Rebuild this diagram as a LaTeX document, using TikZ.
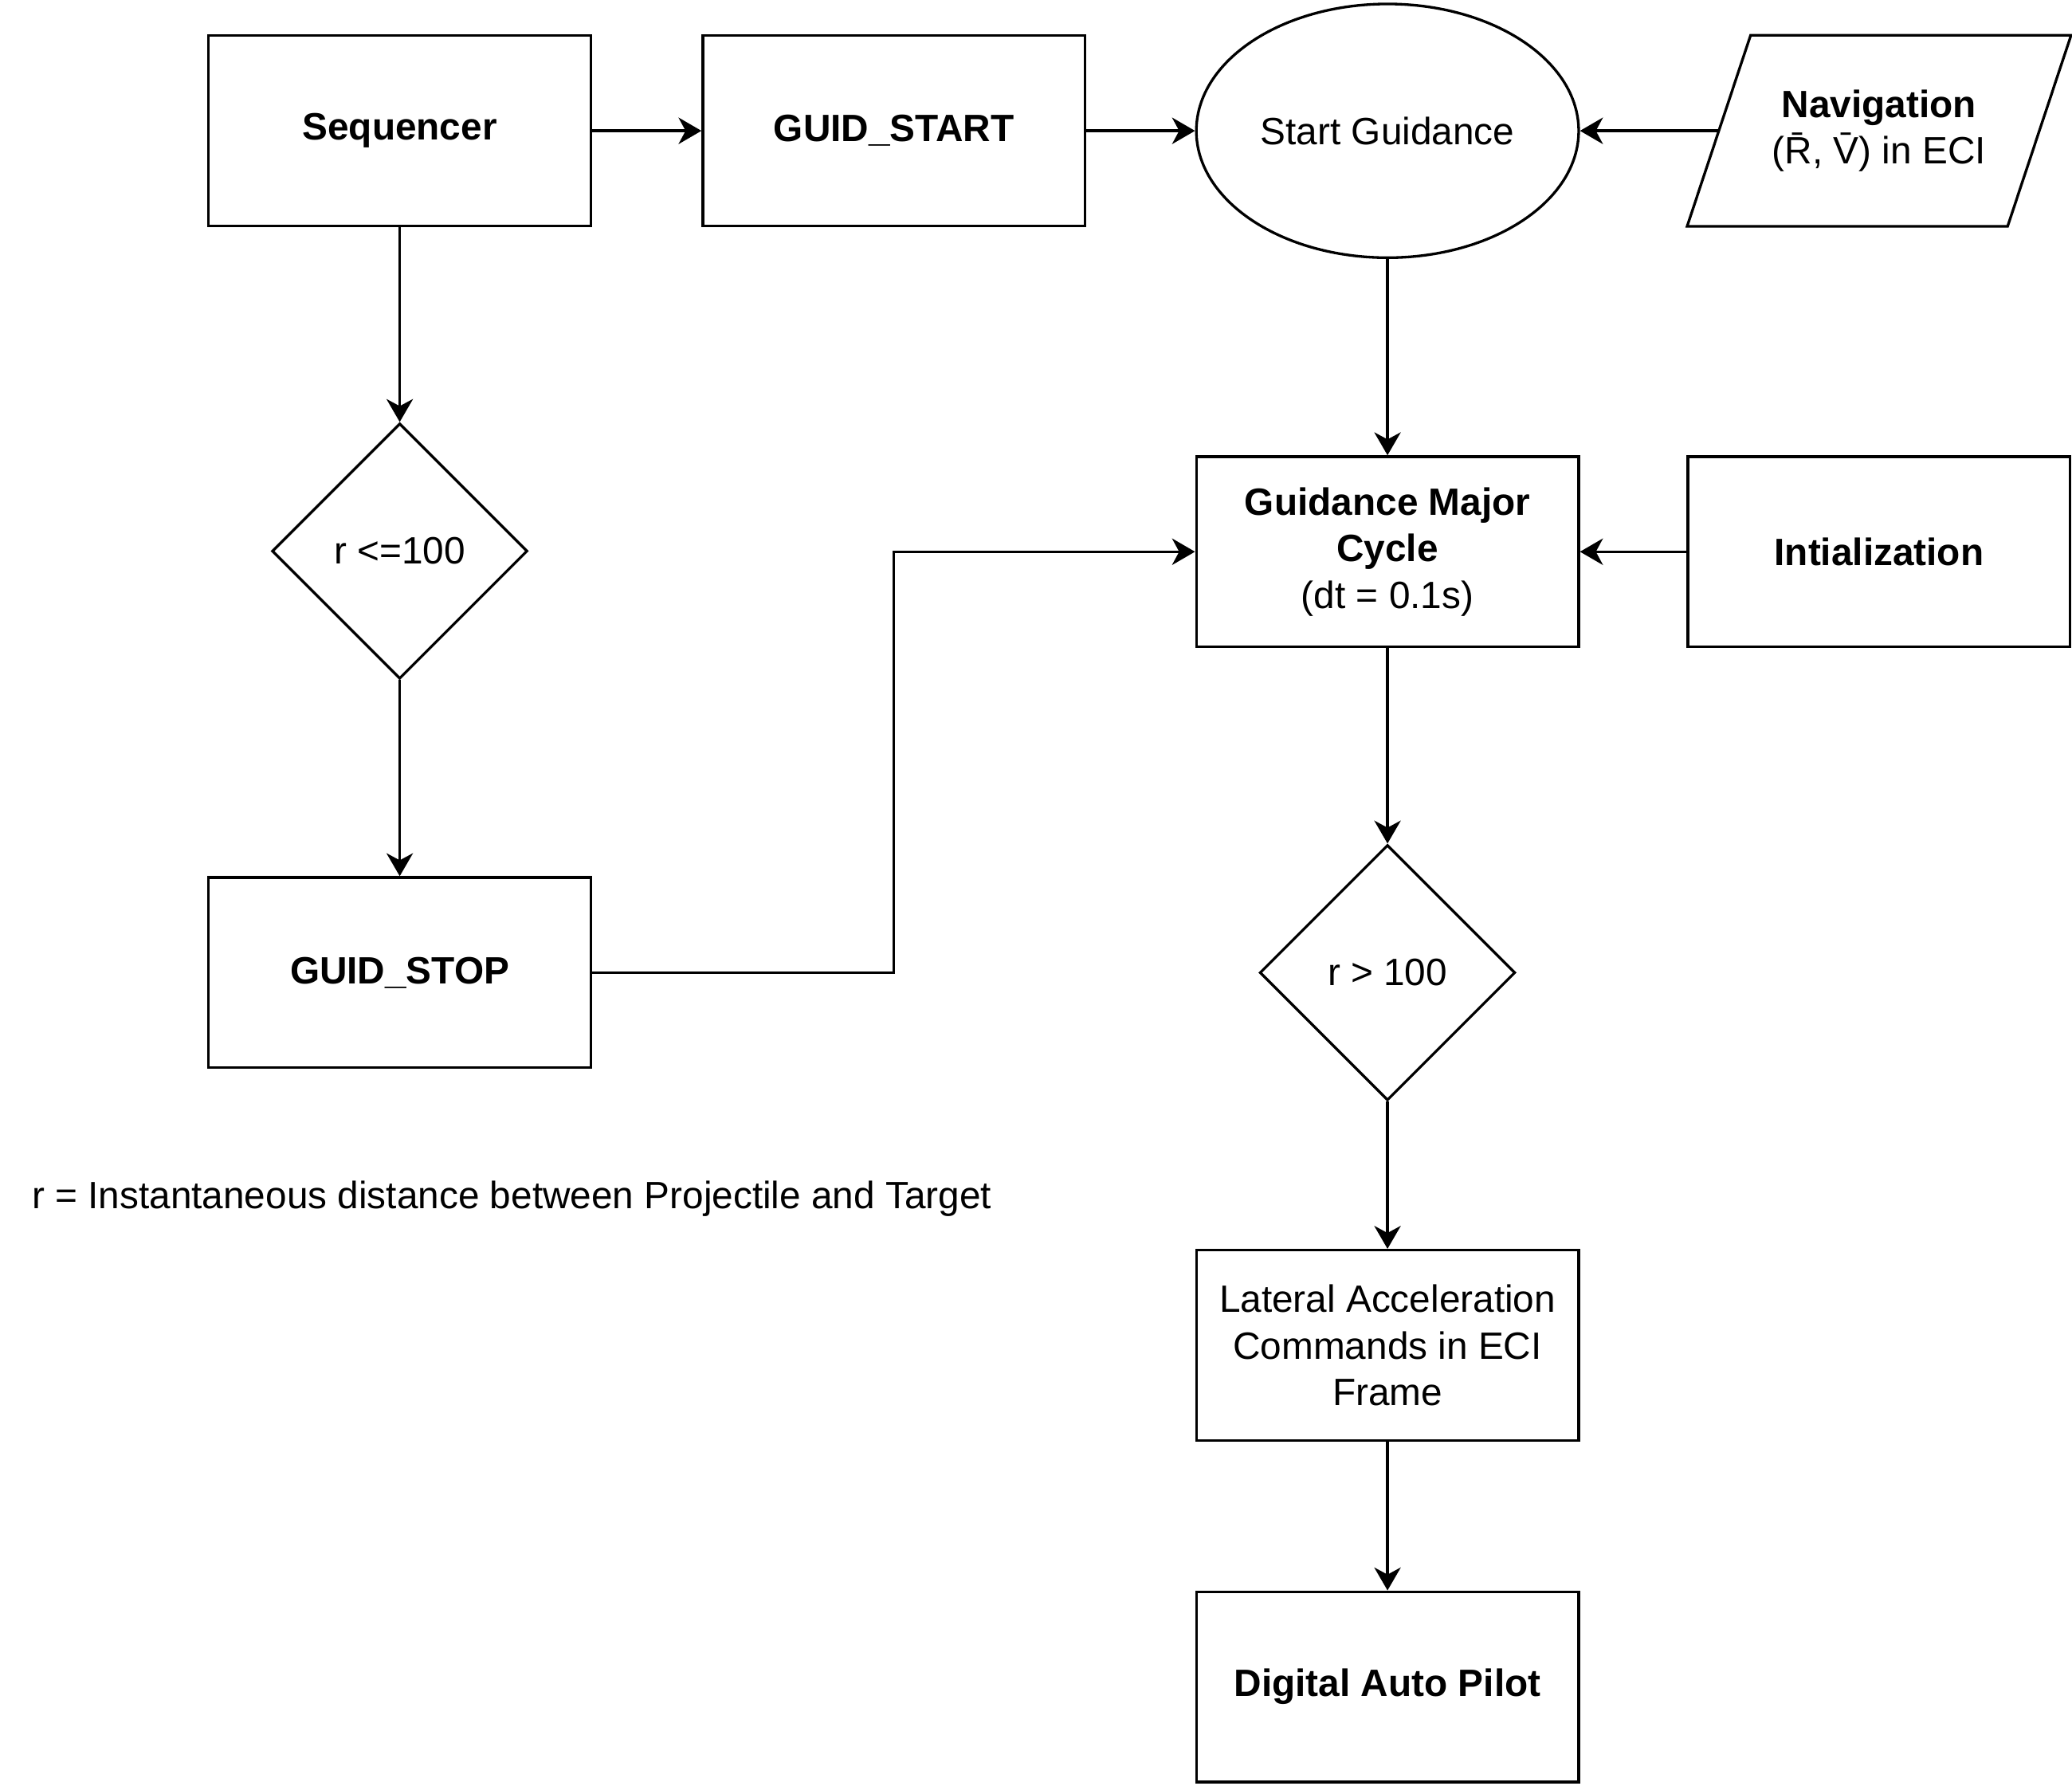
\documentclass[tikz,border=0pt]{standalone}
\usepackage{fontspec}
\setmainfont{Liberation Sans}
\usetikzlibrary{shapes.geometric,arrows.meta,calc}

\begin{document}
\begin{tikzpicture}[x=0.75pt,y=0.75pt,yscale=-1,xscale=1,
  every node/.style={font=\fontsize{21.6}{26.5}\selectfont,align=center},
  box/.style={draw,line width=1.5pt,minimum width=217pt,minimum height=108pt,inner sep=2pt},
  ovalbox/.style={draw,ellipse,line width=1.5pt,minimum width=217pt,minimum height=144pt},
  decide/.style={draw,diamond,aspect=1,line width=1.5pt,minimum size=145pt,inner sep=0pt},
  arr/.style={line width=1.5pt,-{Stealth[length=13pt,width=15pt,inset=4pt]}}]

\useasboundingbox (0,0) rectangle (1568,1351);

\node [box] (seq) at (302.5,99) {\textbf{Sequencer}};
\node [box] (gstart) at (676.5,99) {\textbf{GUID\_START}};
\node [ovalbox] (sg) at (1050,99) {Start Guidance};
\node [minimum width=181.5pt,minimum height=108pt,inner sep=0pt] (nav) at (1422,99) {\textbf{Navigation}\\(R̄, V̄) in ECI};
\draw [line width=1.5pt] ($(nav.north west)+(24,0)$) -- ($(nav.north east)+(24,0)$) -- ($(nav.south east)+(-24,0)$) -- ($(nav.south west)+(-24,0)$) -- cycle;

\node [decide] (dle) at (302.5,417) {r \textless=100};
\node [box] (gstop) at (302.5,736) {\textbf{GUID\_STOP}};

\node [box] (gmc) at (1050,417.5) {\textbf{Guidance Major}\\\textbf{Cycle}\\(dt = 0.1s)};
\node [box] (init) at (1422,417.5) {\textbf{Intialization}};
\node [decide] (dgt) at (1050,736) {r \textgreater{} 100};
\node [box] (lat) at (1050,1018) {Lateral Acceleration\\Commands in ECI\\Frame};
\node [box] (dap) at (1050,1276.5) {\textbf{Digital Auto Pilot}};

\node [anchor=west,inner sep=0pt] (note) at (24,907) {r = Instantaneous distance between Projectile and Target};

\draw [arr] (seq) -- (gstart);
\draw [arr] (gstart) -- (sg);
\draw [arr] (nav.west) -- (sg);
\draw [arr] (seq) -- (dle);
\draw [arr] (dle) -- (gstop);
\draw [arr] (gstop.east) -| (gstart |- gmc.west) -- (gmc.west);
\draw [arr] (sg) -- (gmc);
\draw [arr] (init) -- (gmc);
\draw [arr] (gmc) -- (dgt);
\draw [arr] (dgt) -- (lat);
\draw [arr] (lat) -- (dap);

\end{tikzpicture}
\end{document}
